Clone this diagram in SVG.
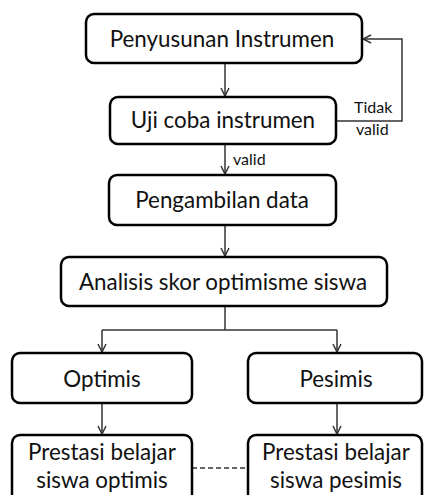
<svg xmlns="http://www.w3.org/2000/svg" width="424" height="495" viewBox="0 0 424 495">
<defs>
<style>
.box{fill:#fff;stroke:#000;stroke-width:2.5}
.t{font-family:Lato,"Open Sans",sans-serif;font-size:22.4px;fill:#111;text-anchor:middle}
.s{font-family:Lato,"Open Sans",sans-serif;font-size:16px;fill:#111}
.c{fill:none;stroke:#333;stroke-width:1.5}
</style>
<marker id="ah" viewBox="0 0 10 10" refX="9" refY="5" markerWidth="10" markerHeight="10" markerUnits="userSpaceOnUse" orient="auto">
<path d="M1,1 L9,5 L1,9" fill="none" stroke="#333" stroke-width="1.5"/>
</marker>
</defs>
<rect width="424" height="495" fill="#fff"/>
<g id="connectors">
<line class="c" x1="225" y1="63" x2="225" y2="96" marker-end="url(#ah)"/>
<polyline class="c" points="336,121 402,121 402,39 363,39" marker-end="url(#ah)"/>
<line class="c" x1="225" y1="144" x2="225" y2="174" marker-end="url(#ah)"/>
<line class="c" x1="225" y1="225" x2="225" y2="256" marker-end="url(#ah)"/>
<polyline class="c" points="225,306 225,330"/>
<line class="c" x1="102" y1="330" x2="337" y2="330"/>
<line class="c" x1="102" y1="330" x2="102" y2="352" marker-end="url(#ah)"/>
<line class="c" x1="337" y1="330" x2="337" y2="352" marker-end="url(#ah)"/>
<line class="c" x1="102" y1="403" x2="102" y2="434" marker-end="url(#ah)"/>
<line class="c" x1="337" y1="403" x2="337" y2="434" marker-end="url(#ah)"/>
<line class="c" x1="192" y1="468" x2="248" y2="468" stroke-dasharray="5,3"/>
<text class="s" x="354" y="113">Tidak</text>
<text class="s" x="356" y="135">valid</text>
<text class="s" x="233" y="165">valid</text>
</g>
<g id="n1"><rect class="box" x="86" y="14" width="276" height="49" rx="8"/><text class="t" x="222" y="47">Penyusunan Instrumen</text></g>
<g id="n2"><rect class="box" x="110" y="97" width="226" height="47" rx="8"/><text class="t" x="223" y="128">Uji coba instrumen</text></g>
<g id="n3"><rect class="box" x="109" y="175" width="227" height="50" rx="8"/><text class="t" x="222" y="208">Pengambilan data</text></g>
<g id="n4"><rect class="box" x="61" y="257" width="326" height="49" rx="8"/><text class="t" x="223" y="290">Analisis skor optimisme siswa</text></g>
<g id="n5"><rect class="box" x="12" y="353" width="180" height="50" rx="8"/><text class="t" x="102" y="387">Optimis</text></g>
<g id="n6"><rect class="box" x="248" y="353" width="174" height="50" rx="8"/><text class="t" x="336" y="387">Pesimis</text></g>
<g id="n7"><rect class="box" x="12" y="435" width="180" height="70" rx="8"/><text class="t" x="102" y="460">Prestasi belajar</text><text class="t" x="102" y="488">siswa optimis</text></g>
<g id="n8"><rect class="box" x="248" y="435" width="174" height="70" rx="8"/><text class="t" x="336" y="460">Prestasi belajar</text><text class="t" x="336" y="488">siswa pesimis</text></g>
</svg>
